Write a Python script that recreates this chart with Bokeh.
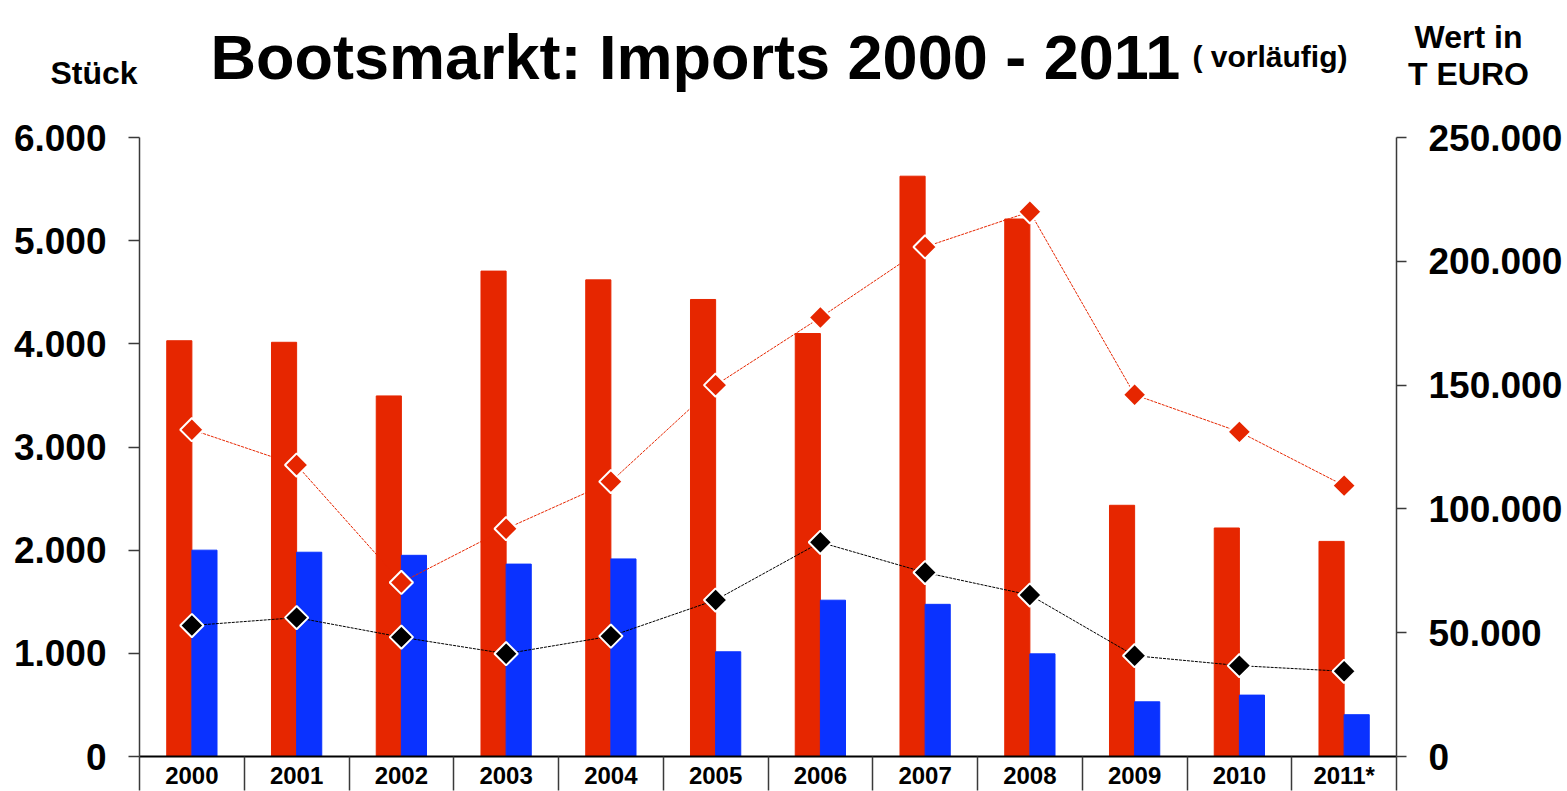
import numpy as np
from bokeh.plotting import figure
from bokeh.layouts import column
from bokeh.models import Range1d, LinearAxis, FixedTicker, ColumnDataSource
from bokeh.core.properties import value
from bokeh.embed import file_html
from bokeh.resources import INLINE

# ---------------- data ----------------
years = ["2000", "2001", "2002", "2003", "2004", "2005",
         "2006", "2007", "2008", "2009", "2010", "2011*"]
stueck_rot = [4030, 4015, 3495, 4705, 4620, 4430, 4100, 5625, 5210, 2435, 2215, 2085]
stueck_blau = [2000, 1980, 1950, 1865, 1915, 1015, 1515, 1475, 995, 530, 595, 405]
wert_rot = [132000, 117700, 70300, 92000, 111000, 150000, 177300, 205800, 220000,
            146100, 131100, 109400]
wert_schwarz = [52900, 56100, 48200, 41500, 48600, 63200, 86500, 74300, 65200,
                40700, 36700, 34400]
left_ticks = [0, 1000, 2000, 3000, 4000, 5000, 6000]
left_tick_labels = ["0", "1.000", "2.000", "3.000", "4.000", "5.000", "6.000"]
right_ticks = [0, 50000, 100000, 150000, 200000, 250000]
right_tick_labels = ["0", "50.000", "100.000", "150.000", "200.000", "250.000"]

title_text = "Bootsmarkt: Imports 2000 - 2011"
title_note = "( vorläufig)"
left_title = "Stück"
right_title = ["Wert in", "T EURO"]

# ---------------- layout constants (page px) ----------------
W, H = 1567, 791
TOP_H = 112                       # header strip: page 0..112
MAIN_H = H - TOP_H                # main figure: page 112..791
FL, FR, FT, FB = 139, 1396, 137, 757

RED = "#E62600"
BLUE = "#0A32FF"
AXIS = "#3a3a3a"
FONT = "Liberation Sans"

n = len(years)
centers = list(np.arange(n) + 0.5)
bounds = list(np.arange(n + 1).astype(float))
bw = 0.24

src = ColumnDataSource(dict(
    xr=np.array(centers) - bw / 2, xb=np.array(centers) + bw / 2, xc=centers,
    rot=stueck_rot, blau=stueck_blau, wr=wert_rot, ws=wert_schwarz,
))

# ---------------- header strip with titles ----------------
top = figure(width=W, height=TOP_H, x_range=Range1d(0, W), y_range=Range1d(TOP_H, 0),
             x_axis_location=None, y_axis_location=None, toolbar_location=None,
             output_backend="svg", min_border=0)
top.frame_align = False
top.outline_line_color = None
top.grid.visible = False

def head(text, x_page, base_page, size, align="left"):
    top.text(x=[x_page], y=[base_page], text=[text], text_align=align,
             text_baseline="alphabetic", text_font=value(FONT), text_font_style="bold",
             text_font_size=size, text_color="black")

head(title_text, 210, 56, "63px")
head(title_note, 1192, 56, "30px")
head(left_title, 50, 72, "32px")
head(right_title[0], 1468, 36, "32px", "center")
head(right_title[1], 1468, 73, "32px", "center")

# ---------------- main chart ----------------
p = figure(width=W, height=MAIN_H, x_range=Range1d(0, n), y_range=Range1d(0, 6000),
           toolbar_location=None, output_backend="svg",
           min_border_left=FL, min_border_right=W - FR,
           min_border_top=FT - TOP_H, min_border_bottom=H - FB)
p.outline_line_color = None
p.grid.visible = False
p.extra_y_ranges = {"right": Range1d(0, 250000)}

def style_y(ax, tick_out, standoff):
    ax.major_tick_out = tick_out
    ax.major_tick_in = 0
    ax.minor_tick_out = 0
    ax.minor_tick_in = 0
    ax.axis_line_color = AXIS
    ax.axis_line_width = 1.5
    ax.major_tick_line_color = AXIS
    ax.major_tick_line_width = 1.5
    ax.major_label_standoff = standoff
    ax.major_label_text_font = FONT
    ax.major_label_text_font_style = "bold"
    ax.major_label_text_font_size = "37px"
    ax.major_label_text_color = "black"

ya = p.yaxis[0]
ya.ticker = FixedTicker(ticks=left_ticks, minor_ticks=[])
ya.major_label_overrides = dict(zip(left_ticks, left_tick_labels))
style_y(ya, 11, 22)

ra = LinearAxis(y_range_name="right",
                ticker=FixedTicker(ticks=right_ticks, minor_ticks=[]),
                major_label_overrides=dict(zip(right_ticks, right_tick_labels)))
style_y(ra, 10, 22)
p.add_layout(ra, "right")

sep_len = H - FB
xa = p.xaxis[0]
xa.ticker = FixedTicker(ticks=centers, minor_ticks=bounds)
xa.major_label_overrides = dict(zip(centers, years))
xa.major_tick_out = 0
xa.major_tick_in = 0
xa.minor_tick_in = 0
xa.minor_tick_out = sep_len
xa.minor_tick_line_color = AXIS
xa.minor_tick_line_width = 1.5
xa.axis_line_color = "black"
xa.axis_line_width = 2
xa.major_label_standoff = 5 - sep_len
xa.major_label_text_font = FONT
xa.major_label_text_font_style = "bold"
xa.major_label_text_font_size = "24px"
xa.major_label_text_color = "black"

# bars (left axis, Stück)
p.vbar(x="xr", top="rot", bottom=0, width=bw, color=RED, source=src)
p.vbar(x="xb", top="blau", bottom=0, width=bw, color=BLUE, source=src)

# lines with diamond markers (right axis, Wert in T EURO)
p.line(x="xc", y="wr", source=src, y_range_name="right", line_color=RED,
       line_width=1, line_dash="3 1")
p.line(x="xc", y="ws", source=src, y_range_name="right", line_color="black",
       line_width=1, line_dash="3 1")
p.scatter(x="xc", y="wr", source=src, y_range_name="right", marker="square",
          angle=np.pi / 4, size=16.5, fill_color=RED, line_color="white", line_width=2)
p.scatter(x="xc", y="ws", source=src, y_range_name="right", marker="square",
          angle=np.pi / 4, size=16.5, fill_color="black", line_color="white", line_width=2)

layout = column(top, p, spacing=0)
open("out.html", "w").write(file_html(layout, INLINE))
